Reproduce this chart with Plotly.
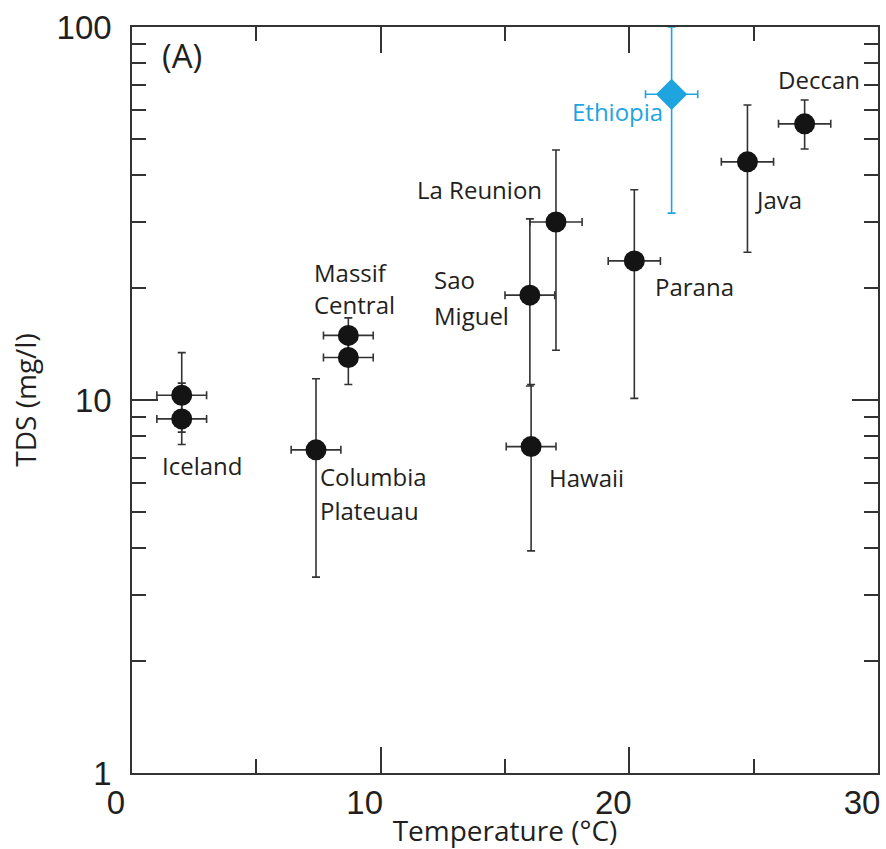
import math
import plotly.graph_objects as go

# ---- data ----
sites = ["Iceland", "Iceland", "Columbia Plateuau", "Massif Central", "Massif Central",
         "Sao Miguel", "La Reunion", "Hawaii", "Parana", "Java", "Deccan"]
temp = [2.0, 2.0, 7.4, 8.7, 8.7, 16.0, 17.05, 16.05, 20.2, 24.75, 27.05]
temp_err = [1.0, 1.0, 1.0, 1.0, 1.0, 1.0, 1.05, 1.0, 1.05, 1.05, 1.05]
tds = [10.3, 8.9, 7.35, 14.9, 13.0, 19.1, 30.0, 7.5, 23.6, 43.5, 55.0]
tds_hi = [13.4, 11.1, 11.4, 16.6, 14.5, 30.6, 46.8, 11.0, 36.6, 61.8, 63.7]
tds_lo = [8.2, 7.6, 3.35, 12.5, 11.0, 10.9, 13.6, 3.94, 10.1, 24.9, 47.1]

eth_temp = [21.7]
eth_temp_err = [1.05]
eth_tds = [66.0]
eth_hi = [100.0]
eth_lo = [31.7]

x_ticks = [0, 10, 20, 30]
x_minor = [5, 15, 25]
y_ticks = [1, 10, 100]
y_minor = [2, 3, 4, 5, 6, 7, 8, 9, 20, 30, 40, 50, 60, 70, 80, 90]

# label text and anchor (left edge x in degC, centre y in mg/l)
labels = ["Iceland", "Columbia", "Plateuau", "Massif", "Central", "La Reunion",
          "Sao", "Miguel", "Hawaii", "Parana", "Java", "Deccan"]
label_x = [1.13, 7.48, 7.48, 7.24, 7.24, 11.38, 12.06, 12.06, 16.69, 20.95, 24.97, 25.9]
label_y = [6.69, 6.22, 5.07, 22.0, 18.0, 36.6, 21.0, 16.9, 6.18, 20.1, 34.4, 72.1]

BLACK = "#141414"
BLUE = "#1ea5e0"
AX = "#333333"
TXT = "#231f20"
FONT = "Open Sans, Noto Sans, sans-serif"
TICKFONT = "Liberation Sans, Arial, sans-serif"

fig = go.Figure()
fig.add_trace(go.Scatter(
    x=temp, y=tds, mode="markers",
    marker=dict(symbol="circle", size=21, color=BLACK),
    error_x=dict(type="data", array=temp_err, color=AX, thickness=1.6, width=4),
    error_y=dict(type="data", symmetric=False,
                 array=[h - v for h, v in zip(tds_hi, tds)],
                 arrayminus=[v - l for l, v in zip(tds_lo, tds)],
                 color=AX, thickness=1.6, width=4),
    showlegend=False))
fig.add_trace(go.Scatter(
    x=eth_temp, y=eth_tds, mode="markers",
    marker=dict(symbol="diamond", size=24, color=BLUE),
    error_x=dict(type="data", array=eth_temp_err, color=BLUE, thickness=1.6, width=4),
    error_y=dict(type="data", symmetric=False,
                 array=[h - v for h, v in zip(eth_hi, eth_tds)],
                 arrayminus=[v - l for l, v in zip(eth_lo, eth_tds)],
                 color=BLUE, thickness=1.6, width=4),
    showlegend=False))

for t, lx, ly in zip(labels, label_x, label_y):
    fig.add_annotation(x=lx, y=math.log10(ly), text=t, showarrow=False,
                       xanchor="left", yanchor="middle",
                       font=dict(family=FONT, size=24, color=TXT))
fig.add_annotation(x=17.6, y=math.log10(59.2), text="Ethiopia", showarrow=False,
                   xanchor="left", yanchor="middle",
                   font=dict(family=FONT, size=24, color=BLUE))
fig.add_annotation(x=0.038, y=0.962, xref="paper", yref="paper", text="(A)",
                   showarrow=False, xanchor="left", yanchor="middle",
                   font=dict(family=FONT, size=33, color=TXT))

fig.update_xaxes(
    range=[0, 30], tickvals=x_ticks, ticktext=[str(v) for v in x_ticks],
    ticks="inside", ticklen=26, tickwidth=1.5, tickcolor=AX,
    minor=dict(tickvals=x_minor, ticks="inside", ticklen=14, tickwidth=1.5, tickcolor=AX),
    showline=True, linecolor=AX, linewidth=1.6, mirror="ticks",
    showgrid=False, zeroline=False, automargin=False,
    tickfont=dict(family=TICKFONT, size=33, color=TXT),
    ticklabelshift=-16, ticklabelstandoff=0,
    title=dict(text="Temperature (°C)", font=dict(family=FONT, size=28, color=TXT), standoff=9))
fig.update_yaxes(
    type="log", range=[0, 2], tickvals=y_ticks, ticktext=[str(v) for v in y_ticks],
    ticks="inside", ticklen=26, tickwidth=1.5, tickcolor=AX,
    minor=dict(tickvals=y_minor, ticks="inside", ticklen=14, tickwidth=1.5, tickcolor=AX),
    showline=True, linecolor=AX, linewidth=1.6, mirror="ticks",
    showgrid=False, zeroline=False, automargin=False,
    tickfont=dict(family=TICKFONT, size=33, color=TXT),
    ticklabelstandoff=12,
    title=dict(text="TDS (mg/l)", font=dict(family=FONT, size=28, color=TXT), standoff=12))

fig.update_layout(
    width=886, height=849,
    margin=dict(l=132, r=8, t=27, b=76),
    paper_bgcolor="white", plot_bgcolor="white",
)
fig.write_html("out.html", post_script="document.body.style.margin='0';",
               config={"displayModeBar": False})
